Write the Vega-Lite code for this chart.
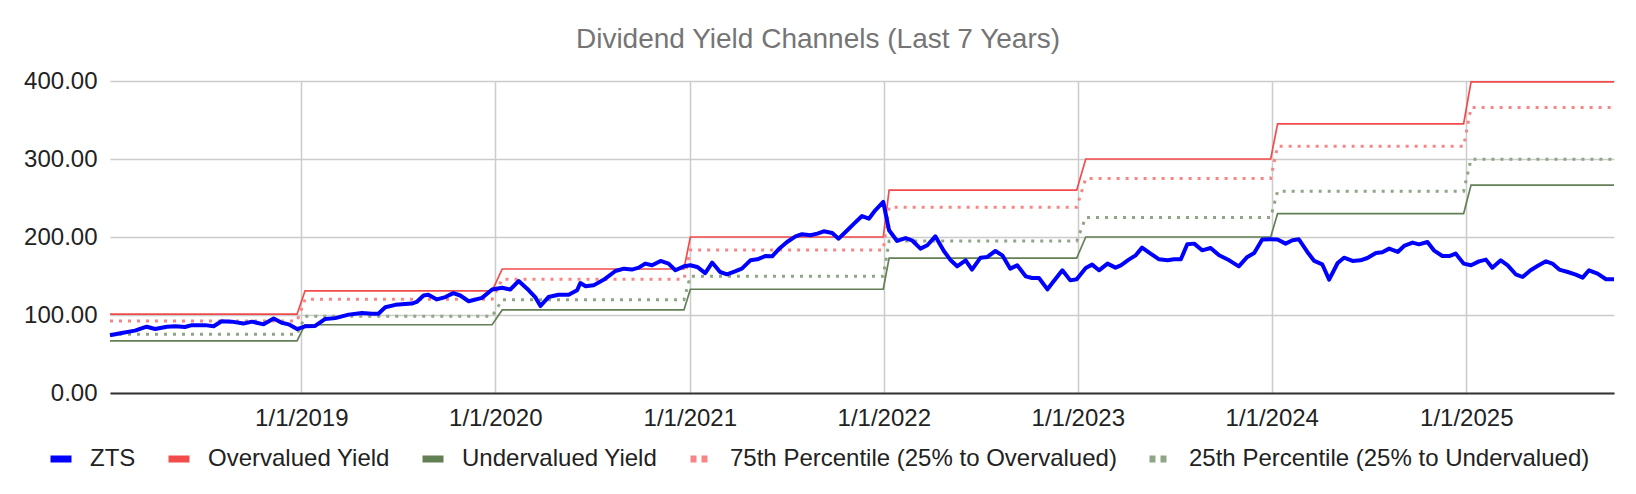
{
  "$schema": "https://vega.github.io/schema/vega-lite/v6.json",
  "width": 1504,
  "height": 312,
  "autosize": {"type": "none"},
  "padding": {"left": 110, "top": 81, "right": 22, "bottom": 101},
  "title": {
    "text": "Dividend Yield Channels (Last 7 Years)",
    "fontSize": 28,
    "font": "Liberation Sans",
    "fontWeight": "normal",
    "color": "#757575",
    "anchor": "middle",
    "dx": -44,
    "offset": 15
  },
  "datasets": {
    "zts": [
      {"date": "2018-01-06", "ZTS": 74}, {"date": "2018-01-28", "ZTS": 77}, {"date": "2018-02-22", "ZTS": 80},
      {"date": "2018-03-16", "ZTS": 85}, {"date": "2018-04-01", "ZTS": 82}, {"date": "2018-04-23", "ZTS": 85},
      {"date": "2018-05-09", "ZTS": 85.5}, {"date": "2018-05-27", "ZTS": 84.6}, {"date": "2018-06-09", "ZTS": 87},
      {"date": "2018-07-04", "ZTS": 87}, {"date": "2018-07-20", "ZTS": 85.5}, {"date": "2018-08-04", "ZTS": 92},
      {"date": "2018-08-23", "ZTS": 91.5}, {"date": "2018-09-14", "ZTS": 89}, {"date": "2018-09-30", "ZTS": 91.5},
      {"date": "2018-10-22", "ZTS": 88}, {"date": "2018-11-10", "ZTS": 95.4}, {"date": "2018-11-25", "ZTS": 90},
      {"date": "2018-12-08", "ZTS": 88}, {"date": "2018-12-24", "ZTS": 82}, {"date": "2019-01-08", "ZTS": 85.5},
      {"date": "2019-01-27", "ZTS": 86}, {"date": "2019-02-15", "ZTS": 95}, {"date": "2019-03-06", "ZTS": 96},
      {"date": "2019-03-31", "ZTS": 100.5}, {"date": "2019-04-25", "ZTS": 102.6}, {"date": "2019-05-14", "ZTS": 101.7},
      {"date": "2019-05-26", "ZTS": 101.7}, {"date": "2019-06-08", "ZTS": 110}, {"date": "2019-06-27", "ZTS": 113},
      {"date": "2019-07-15", "ZTS": 114}, {"date": "2019-07-28", "ZTS": 114.6}, {"date": "2019-08-06", "ZTS": 116.7},
      {"date": "2019-08-19", "ZTS": 125}, {"date": "2019-08-28", "ZTS": 126}, {"date": "2019-09-13", "ZTS": 120},
      {"date": "2019-09-29", "ZTS": 123}, {"date": "2019-10-14", "ZTS": 128}, {"date": "2019-10-27", "ZTS": 125},
      {"date": "2019-11-12", "ZTS": 117.6}, {"date": "2019-12-07", "ZTS": 122}, {"date": "2019-12-26", "ZTS": 132.6},
      {"date": "2020-01-14", "ZTS": 135}, {"date": "2020-01-29", "ZTS": 132.6}, {"date": "2020-02-14", "ZTS": 143.6},
      {"date": "2020-03-04", "ZTS": 131.7}, {"date": "2020-03-16", "ZTS": 123}, {"date": "2020-03-26", "ZTS": 111.5},
      {"date": "2020-04-10", "ZTS": 123}, {"date": "2020-04-29", "ZTS": 126}, {"date": "2020-05-18", "ZTS": 126},
      {"date": "2020-06-03", "ZTS": 131.7}, {"date": "2020-06-09", "ZTS": 141}, {"date": "2020-06-19", "ZTS": 136.8},
      {"date": "2020-07-04", "ZTS": 138}, {"date": "2020-07-26", "ZTS": 146.6}, {"date": "2020-08-14", "ZTS": 156.4},
      {"date": "2020-08-30", "ZTS": 159.4}, {"date": "2020-09-14", "ZTS": 158.2}, {"date": "2020-09-27", "ZTS": 160.7},
      {"date": "2020-10-09", "ZTS": 165.9}, {"date": "2020-10-22", "ZTS": 163.7}, {"date": "2020-11-07", "ZTS": 169.3},
      {"date": "2020-11-22", "ZTS": 165.9}, {"date": "2020-12-05", "ZTS": 157.3}, {"date": "2020-12-21", "ZTS": 162.4},
      {"date": "2021-01-02", "ZTS": 163.7}, {"date": "2021-01-15", "ZTS": 161.6}, {"date": "2021-01-30", "ZTS": 153.8},
      {"date": "2021-02-12", "ZTS": 167.2}, {"date": "2021-02-27", "ZTS": 155.1}, {"date": "2021-03-12", "ZTS": 152.2},
      {"date": "2021-03-27", "ZTS": 155.9}, {"date": "2021-04-09", "ZTS": 159.4}, {"date": "2021-04-25", "ZTS": 170.1},
      {"date": "2021-05-08", "ZTS": 171.4}, {"date": "2021-05-23", "ZTS": 175.6}, {"date": "2021-06-05", "ZTS": 175.2},
      {"date": "2021-06-17", "ZTS": 184.2}, {"date": "2021-07-03", "ZTS": 193.6}, {"date": "2021-07-19", "ZTS": 200.9},
      {"date": "2021-07-31", "ZTS": 203.5}, {"date": "2021-08-16", "ZTS": 202.2}, {"date": "2021-08-29", "ZTS": 204.4},
      {"date": "2021-09-10", "ZTS": 207.3}, {"date": "2021-09-26", "ZTS": 205.1}, {"date": "2021-10-08", "ZTS": 197.9},
      {"date": "2021-10-21", "ZTS": 206.4}, {"date": "2021-11-06", "ZTS": 217.2}, {"date": "2021-11-21", "ZTS": 226.9},
      {"date": "2021-12-04", "ZTS": 223.5}, {"date": "2021-12-16", "ZTS": 234.2}, {"date": "2021-12-31", "ZTS": 244.9},
      {"date": "2022-01-11", "ZTS": 208.6}, {"date": "2022-01-26", "ZTS": 194.9}, {"date": "2022-02-11", "ZTS": 198.7},
      {"date": "2022-02-23", "ZTS": 195.8}, {"date": "2022-03-11", "ZTS": 185.1}, {"date": "2022-03-24", "ZTS": 189.4},
      {"date": "2022-04-08", "ZTS": 200.9}, {"date": "2022-04-24", "ZTS": 182.1}, {"date": "2022-05-07", "ZTS": 170.1},
      {"date": "2022-05-19", "ZTS": 162.4}, {"date": "2022-06-04", "ZTS": 170.1}, {"date": "2022-06-16", "ZTS": 158.2},
      {"date": "2022-07-02", "ZTS": 173.5}, {"date": "2022-07-15", "ZTS": 174.4}, {"date": "2022-07-30", "ZTS": 182.1},
      {"date": "2022-08-12", "ZTS": 176.5}, {"date": "2022-08-27", "ZTS": 159.4}, {"date": "2022-09-09", "ZTS": 163.7},
      {"date": "2022-09-25", "ZTS": 149.6}, {"date": "2022-10-07", "ZTS": 147.4}, {"date": "2022-10-20", "ZTS": 147.4},
      {"date": "2022-11-05", "ZTS": 132.9}, {"date": "2022-11-17", "ZTS": 143.6}, {"date": "2022-12-03", "ZTS": 157.3},
      {"date": "2022-12-18", "ZTS": 144.4}, {"date": "2022-12-30", "ZTS": 145.8}, {"date": "2023-01-16", "ZTS": 160.3},
      {"date": "2023-01-28", "ZTS": 164.6}, {"date": "2023-02-10", "ZTS": 157.3}, {"date": "2023-02-26", "ZTS": 165.9},
      {"date": "2023-03-13", "ZTS": 160.7}, {"date": "2023-03-23", "ZTS": 163.7}, {"date": "2023-04-07", "ZTS": 171},
      {"date": "2023-04-20", "ZTS": 176.5}, {"date": "2023-05-02", "ZTS": 186.4}, {"date": "2023-05-18", "ZTS": 178.7},
      {"date": "2023-06-03", "ZTS": 171.4}, {"date": "2023-06-19", "ZTS": 170.1}, {"date": "2023-07-01", "ZTS": 171.4},
      {"date": "2023-07-14", "ZTS": 171.4}, {"date": "2023-07-26", "ZTS": 190.6}, {"date": "2023-08-08", "ZTS": 191.5},
      {"date": "2023-08-23", "ZTS": 182.9}, {"date": "2023-09-08", "ZTS": 185.9}, {"date": "2023-09-24", "ZTS": 176.5},
      {"date": "2023-10-13", "ZTS": 170.1}, {"date": "2023-10-31", "ZTS": 162.4}, {"date": "2023-11-16", "ZTS": 174.4},
      {"date": "2023-11-29", "ZTS": 179.5}, {"date": "2023-12-14", "ZTS": 196.7}, {"date": "2023-12-30", "ZTS": 197.1},
      {"date": "2024-01-12", "ZTS": 196.7}, {"date": "2024-01-27", "ZTS": 191.5}, {"date": "2024-02-09", "ZTS": 195.8},
      {"date": "2024-02-21", "ZTS": 197.1}, {"date": "2024-03-08", "ZTS": 180.8}, {"date": "2024-03-21", "ZTS": 169.3},
      {"date": "2024-04-05", "ZTS": 165}, {"date": "2024-04-18", "ZTS": 145.4}, {"date": "2024-05-04", "ZTS": 166.7},
      {"date": "2024-05-16", "ZTS": 173.5}, {"date": "2024-06-01", "ZTS": 169.3}, {"date": "2024-06-16", "ZTS": 170.1},
      {"date": "2024-06-29", "ZTS": 173.1}, {"date": "2024-07-15", "ZTS": 179.5}, {"date": "2024-07-27", "ZTS": 180.4},
      {"date": "2024-08-09", "ZTS": 185.1}, {"date": "2024-08-25", "ZTS": 180.8}, {"date": "2024-09-06", "ZTS": 188.5},
      {"date": "2024-09-22", "ZTS": 192.8}, {"date": "2024-10-04", "ZTS": 190.6}, {"date": "2024-10-20", "ZTS": 193.6},
      {"date": "2024-11-01", "ZTS": 182.9}, {"date": "2024-11-17", "ZTS": 175.6}, {"date": "2024-11-30", "ZTS": 175.6},
      {"date": "2024-12-12", "ZTS": 178.7}, {"date": "2024-12-27", "ZTS": 165.9}, {"date": "2025-01-10", "ZTS": 163.7},
      {"date": "2025-01-25", "ZTS": 168.8}, {"date": "2025-02-07", "ZTS": 171}, {"date": "2025-02-19", "ZTS": 160.7},
      {"date": "2025-03-07", "ZTS": 170.1}, {"date": "2025-03-20", "ZTS": 163.7}, {"date": "2025-04-04", "ZTS": 152.2},
      {"date": "2025-04-17", "ZTS": 148.7}, {"date": "2025-05-02", "ZTS": 157.3}, {"date": "2025-05-15", "ZTS": 162.8},
      {"date": "2025-05-31", "ZTS": 168.8}, {"date": "2025-06-12", "ZTS": 165.9}, {"date": "2025-06-25", "ZTS": 158.2},
      {"date": "2025-07-11", "ZTS": 155.1}, {"date": "2025-07-26", "ZTS": 151.8}, {"date": "2025-08-08", "ZTS": 147.9},
      {"date": "2025-08-20", "ZTS": 157.3}, {"date": "2025-09-05", "ZTS": 153.1}, {"date": "2025-09-21", "ZTS": 145.8},
      {"date": "2025-10-06", "ZTS": 145.8}
    ],
    "channels": [
      {"date": "2018-01-06", "Overvalued Yield": 101, "Undervalued Yield": 66.7, "75th Percentile (25% to Overvalued)": 92.4, "25th Percentile (25% to Undervalued)": 75.3},
      {"date": "2018-12-24", "Overvalued Yield": 101, "Undervalued Yield": 66.7, "75th Percentile (25% to Overvalued)": 92.4, "25th Percentile (25% to Undervalued)": 75.3},
      {"date": "2019-01-08", "Overvalued Yield": 131, "Undervalued Yield": 87.5, "75th Percentile (25% to Overvalued)": 120.1, "25th Percentile (25% to Undervalued)": 98.4},
      {"date": "2019-12-26", "Overvalued Yield": 131, "Undervalued Yield": 87.5, "75th Percentile (25% to Overvalued)": 120.1, "25th Percentile (25% to Undervalued)": 98.4},
      {"date": "2020-01-14", "Overvalued Yield": 159, "Undervalued Yield": 106.5, "75th Percentile (25% to Overvalued)": 145.9, "25th Percentile (25% to Undervalued)": 119.6},
      {"date": "2020-12-21", "Overvalued Yield": 159, "Undervalued Yield": 106.5, "75th Percentile (25% to Overvalued)": 145.9, "25th Percentile (25% to Undervalued)": 119.6},
      {"date": "2021-01-02", "Overvalued Yield": 200, "Undervalued Yield": 133, "75th Percentile (25% to Overvalued)": 183.2, "25th Percentile (25% to Undervalued)": 149.8},
      {"date": "2021-12-31", "Overvalued Yield": 200, "Undervalued Yield": 133, "75th Percentile (25% to Overvalued)": 183.2, "25th Percentile (25% to Undervalued)": 149.8},
      {"date": "2022-01-11", "Overvalued Yield": 260, "Undervalued Yield": 173, "75th Percentile (25% to Overvalued)": 238.2, "25th Percentile (25% to Undervalued)": 194.8},
      {"date": "2022-12-30", "Overvalued Yield": 260, "Undervalued Yield": 173, "75th Percentile (25% to Overvalued)": 238.2, "25th Percentile (25% to Undervalued)": 194.8},
      {"date": "2023-01-16", "Overvalued Yield": 300, "Undervalued Yield": 200, "75th Percentile (25% to Overvalued)": 275, "25th Percentile (25% to Undervalued)": 225},
      {"date": "2023-12-30", "Overvalued Yield": 300, "Undervalued Yield": 200, "75th Percentile (25% to Overvalued)": 275, "25th Percentile (25% to Undervalued)": 225},
      {"date": "2024-01-12", "Overvalued Yield": 345, "Undervalued Yield": 230, "75th Percentile (25% to Overvalued)": 316.2, "25th Percentile (25% to Undervalued)": 258.8},
      {"date": "2024-12-27", "Overvalued Yield": 345, "Undervalued Yield": 230, "75th Percentile (25% to Overvalued)": 316.2, "25th Percentile (25% to Undervalued)": 258.8},
      {"date": "2025-01-10", "Overvalued Yield": 399, "Undervalued Yield": 266.5, "75th Percentile (25% to Overvalued)": 365.9, "25th Percentile (25% to Undervalued)": 299.6},
      {"date": "2025-10-06", "Overvalued Yield": 399, "Undervalued Yield": 266.5, "75th Percentile (25% to Overvalued)": 365.9, "25th Percentile (25% to Undervalued)": 299.6}
    ]
  },
  "encoding": {
    "x": {
      "field": "date",
      "type": "temporal",
      "scale": {
        "type": "utc",
        "domain": [
          {"year": 2018, "month": 1, "date": 6, "utc": true},
          {"year": 2025, "month": 10, "date": 6, "utc": true}
        ]
      },
      "axis": {
        "title": null,
        "values": [
          {"year": 2019, "month": 1, "date": 1, "utc": true},
          {"year": 2020, "month": 1, "date": 1, "utc": true},
          {"year": 2021, "month": 1, "date": 1, "utc": true},
          {"year": 2022, "month": 1, "date": 1, "utc": true},
          {"year": 2023, "month": 1, "date": 1, "utc": true},
          {"year": 2024, "month": 1, "date": 1, "utc": true},
          {"year": 2025, "month": 1, "date": 1, "utc": true}
        ],
        "labelExpr": "utcFormat(datum.value, '%-m/%-d/%Y')",
        "grid": true,
        "domain": true,
        "domainColor": "#333333",
        "domainWidth": 2,
        "labelPadding": 13,
        "labelOverlap": false,
        "labelFlush": false
      }
    },
    "y": {
      "field": "value",
      "type": "quantitative",
      "scale": {"domain": [0, 400], "nice": false},
      "axis": {
        "title": null,
        "values": [0, 100, 200, 300, 400],
        "format": ".2f",
        "grid": true,
        "domain": false,
        "labelPadding": 13
      }
    },
    "color": {
      "field": "series",
      "type": "nominal",
      "scale": {
        "domain": ["ZTS", "Overvalued Yield", "Undervalued Yield", "75th Percentile (25% to Overvalued)", "25th Percentile (25% to Undervalued)"],
        "range": ["#0000ff", "#f24b4b", "#637f55", "#f78585", "#8fa586"]
      },
      "legend": {
        "orient": "none",
        "legendX": -63,
        "legendY": 364,
        "direction": "horizontal",
        "title": null,
        "symbolType": "stroke",
        "symbolSize": 441,
        "symbolStrokeWidth": 7,
        "labelFontSize": 24,
        "labelColor": "#222222",
        "labelOffset": 15,
        "columnPadding": 18,
        "labelLimit": 1000,
        "encode": {
          "symbols": {
            "update": {
              "strokeDash": {"signal": "indexof(['ZTS', 'Overvalued Yield', 'Undervalued Yield'], datum.value) >= 0 ? [1, 0] : [6, 5]"}
            }
          }
        }
      }
    }
  },
  "layer": [
    {
      "data": {"name": "channels"},
      "transform": [
        {"fold": ["Overvalued Yield", "Undervalued Yield"], "as": ["series", "value"]}
      ],
      "mark": {"type": "line", "strokeWidth": 1.7}
    },
    {
      "data": {"name": "channels"},
      "transform": [
        {"fold": ["75th Percentile (25% to Overvalued)", "25th Percentile (25% to Undervalued)"], "as": ["series", "value"]}
      ],
      "mark": {"type": "line", "strokeWidth": 3, "strokeDash": [3, 6]}
    },
    {
      "data": {"name": "zts"},
      "transform": [
        {"fold": ["ZTS"], "as": ["series", "value"]}
      ],
      "mark": {"type": "line", "strokeWidth": 4, "strokeJoin": "round"}
    }
  ],
  "config": {
    "view": {"stroke": null},
    "font": "Liberation Sans",
    "axis": {
      "labelFont": "Liberation Sans",
      "labelFontSize": 24,
      "labelColor": "#222222",
      "ticks": false,
      "gridColor": "#cccccc",
      "gridWidth": 1.5
    },
    "legend": {"labelFont": "Liberation Sans"}
  }
}
